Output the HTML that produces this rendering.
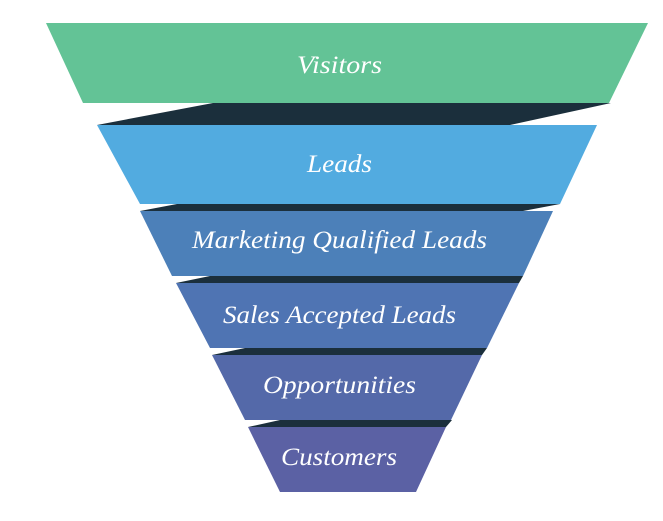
<!DOCTYPE html>
<html><head><style>
html,body{margin:0;padding:0;background:#fff;width:663px;height:521px;overflow:hidden}
text{font-family:"Liberation Serif",serif;font-style:italic;fill:#fff;font-size:25px}
</style></head><body>
<svg width="663" height="521" viewBox="0 0 663 521">
<polygon points="213,103 611,103 510,125 97,125" fill="#1b2f3c"/>
<polygon points="177,204 560,204 523,211 140,211" fill="#1b2f3c"/>
<polygon points="210,276 523,276 519,283 176,283" fill="#1b2f3c"/>
<polygon points="245,348 487,348 482,355 212,355" fill="#1b2f3c"/>
<polygon points="280,420 452,420 446,427 248,427" fill="#1b2f3c"/>
<polygon points="46,23 648,23 609,103 83,103" fill="#63c396"/>
<polygon points="97,125 597,125 560,204 140,204" fill="#52abe0"/>
<polygon points="140,211 553,211 523,276 172,276" fill="#4c80b9"/>
<polygon points="176,283 519,283 487,348 210,348" fill="#4f74b3"/>
<polygon points="212,355 482,355 451,420 245,420" fill="#5469a9"/>
<polygon points="248,427 446,427 416,492 280,492" fill="#5b61a4"/>
<text x="297" y="73" textLength="85" lengthAdjust="spacingAndGlyphs">Visitors</text>
<text x="307" y="172" textLength="65" lengthAdjust="spacingAndGlyphs">Leads</text>
<text x="192" y="248" textLength="295" lengthAdjust="spacingAndGlyphs">Marketing Qualified Leads</text>
<text x="223" y="323" textLength="233" lengthAdjust="spacingAndGlyphs">Sales Accepted Leads</text>
<text x="263" y="393" textLength="153" lengthAdjust="spacingAndGlyphs">Opportunities</text>
<text x="281" y="465" textLength="116" lengthAdjust="spacingAndGlyphs">Customers</text>
</svg>
</body></html>
